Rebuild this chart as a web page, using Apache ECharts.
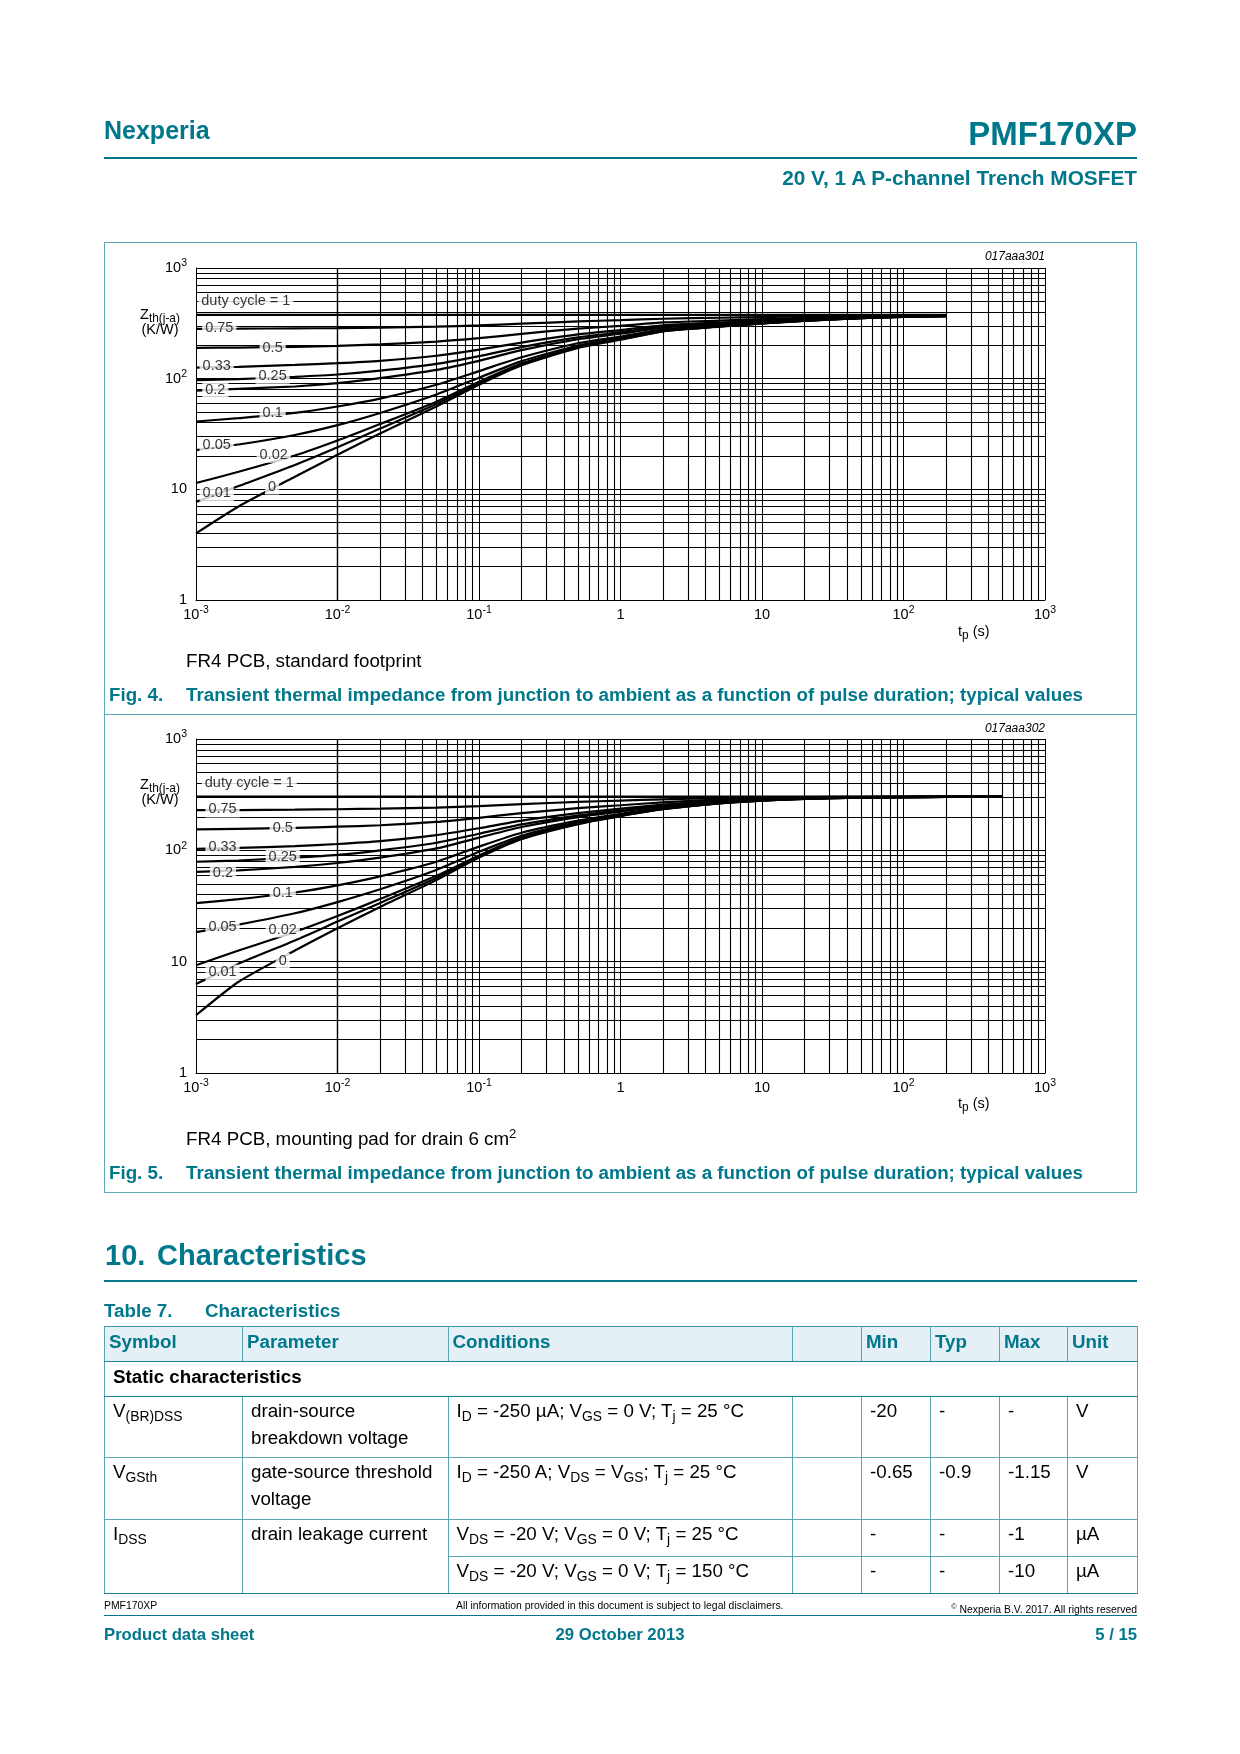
<!DOCTYPE html>
<html><head><meta charset="utf-8">
<script src="https://cdn.jsdelivr.net/npm/echarts@6/dist/echarts.min.js"></script>
<style>
html,body{margin:0;padding:0;background:#fff;}
#page{position:relative;width:1240px;height:1754px;overflow:hidden;font-family:"Liberation Sans",Arial,sans-serif;color:#000;background:#fff;}
.t{position:absolute;white-space:nowrap;line-height:1;}
.teal{color:#00778b;}
.b{font-weight:bold;}
.hl{position:absolute;background:#00778b;}
sub.s{font-size:0.82em;vertical-align:-0.25em;line-height:0;}
table.ch{position:absolute;left:104px;top:1326px;border-collapse:collapse;table-layout:fixed;width:1033px;font-size:18.75px;line-height:26.7px;}
table.ch td{border:1px solid #5aa5b5;vertical-align:top;padding:1px 6px 0 8px;overflow:hidden;white-space:nowrap;}
table.ch tr.hd td{background:#e4f0f5;color:#00778b;font-weight:bold;vertical-align:middle;padding:0 4px 4px 4px;border-bottom:1.5px solid #1f8497;border-top:1px solid #3d98a9;}
table.ch tr.st td{font-weight:bold;vertical-align:middle;padding:0 0 3px 8px;border-bottom:1.5px solid #1f8497;}
table.ch tr.last td{border-bottom:1.5px solid #1f8497;}
table.ch sub{font-size:0.74em;vertical-align:-0.3em;line-height:0;}
</style></head><body>
<div id="page">
<div id="chart" style="position:absolute;left:0;top:0;width:1240px;height:1754px;"></div>

<!-- header -->
<div class="t teal b" style="left:104px;top:118px;font-size:25px;">Nexperia</div>
<div class="t teal b" style="right:103px;top:117px;font-size:33px;">PMF170XP</div>
<div class="hl" style="left:104px;top:157px;width:1033px;height:1.5px;"></div>
<div class="t teal b" style="right:103px;top:168px;font-size:20.8px;">20 V, 1 A P-channel Trench MOSFET</div>

<!-- figure box -->
<div style="position:absolute;left:104px;top:242px;width:1033px;height:951px;border:1px solid #5da9b8;box-sizing:border-box;"></div>
<div style="position:absolute;left:104px;top:714px;width:1033px;height:1px;background:#5da9b8;"></div>

<!-- fig 4 texts -->
<div class="t" style="right:195px;top:250px;font-size:12px;font-style:italic;">017aaa301</div>
<div class="t" style="left:160px;top:307px;font-size:14.5px;transform:translateX(-50%);">Z<sub class="s">th(j-a)</sub></div>
<div class="t" style="left:160px;top:322px;font-size:14.5px;transform:translateX(-50%);">(K/W)</div>
<div class="t" style="left:958px;top:624px;font-size:14.5px;">t<sub class="s">p</sub> (s)</div>
<div class="t" style="left:186px;top:652px;font-size:18.75px;">FR4 PCB, standard footprint</div>
<div class="t teal b" style="left:109px;top:686px;font-size:18.75px;">Fig. 4.</div>
<div class="t teal b" style="left:186px;top:686px;font-size:18.75px;">Transient thermal impedance from junction to ambient as a function of pulse duration; typical values</div>

<!-- fig 5 texts -->
<div class="t" style="right:195px;top:722px;font-size:12px;font-style:italic;">017aaa302</div>
<div class="t" style="left:160px;top:777px;font-size:14.5px;transform:translateX(-50%);">Z<sub class="s">th(j-a)</sub></div>
<div class="t" style="left:160px;top:792px;font-size:14.5px;transform:translateX(-50%);">(K/W)</div>
<div class="t" style="left:958px;top:1096px;font-size:14.5px;">t<sub class="s">p</sub> (s)</div>
<div class="t" style="left:186px;top:1130px;font-size:18.75px;">FR4 PCB, mounting pad for drain 6 cm<sup style="font-size:0.7em;line-height:0;vertical-align:0.55em;">2</sup></div>
<div class="t teal b" style="left:109px;top:1164px;font-size:18.75px;">Fig. 5.</div>
<div class="t teal b" style="left:186px;top:1164px;font-size:18.75px;">Transient thermal impedance from junction to ambient as a function of pulse duration; typical values</div>

<!-- section -->
<div class="t teal b" style="left:105px;top:1241px;font-size:29px;">10.</div>
<div class="t teal b" style="left:157px;top:1241px;font-size:29px;">Characteristics</div>
<div class="hl" style="left:104px;top:1280px;width:1033px;height:1.5px;"></div>
<div class="t teal b" style="left:104px;top:1302px;font-size:18.75px;">Table 7.</div>
<div class="t teal b" style="left:205px;top:1302px;font-size:18.75px;">Characteristics</div>

<table class="ch">
<colgroup><col style="width:138px"><col style="width:205.5px"><col style="width:344.5px"><col style="width:69px"><col style="width:69px"><col style="width:69px"><col style="width:68px"><col style="width:70px"></colgroup>
<tr class="hd" style="height:35px"><td>Symbol</td><td>Parameter</td><td>Conditions</td><td></td><td>Min</td><td>Typ</td><td>Max</td><td>Unit</td></tr>
<tr class="st" style="height:35px"><td colspan="8">Static characteristics</td></tr>
<tr style="height:61px"><td>V<sub>(BR)DSS</sub></td><td>drain-source<br>breakdown voltage</td><td>I<sub>D</sub> = -250 µA; V<sub>GS</sub> = 0 V; T<sub>j</sub> = 25 °C</td><td></td><td>-20</td><td>-</td><td>-</td><td>V</td></tr>
<tr style="height:62px"><td>V<sub>GSth</sub></td><td>gate-source threshold<br>voltage</td><td>I<sub>D</sub> = -250 A; V<sub>DS</sub> = V<sub>GS</sub>; T<sub>j</sub> = 25 °C</td><td></td><td>-0.65</td><td>-0.9</td><td>-1.15</td><td>V</td></tr>
<tr style="height:37px"><td rowspan="2" style="border-bottom:1.5px solid #1f8497">I<sub>DSS</sub></td><td rowspan="2" style="border-bottom:1.5px solid #1f8497">drain leakage current</td><td>V<sub>DS</sub> = -20 V; V<sub>GS</sub> = 0 V; T<sub>j</sub> = 25 °C</td><td></td><td>-</td><td>-</td><td>-1</td><td>µA</td></tr>
<tr class="last" style="height:37px"><td>V<sub>DS</sub> = -20 V; V<sub>GS</sub> = 0 V; T<sub>j</sub> = 150 °C</td><td></td><td>-</td><td>-</td><td>-10</td><td>µA</td></tr>
</table>

<!-- footer -->
<div class="t" style="left:104px;top:1601px;font-size:10.4px;">PMF170XP</div>
<div class="t" style="left:456px;top:1601px;font-size:10.4px;">All information provided in this document is subject to legal disclaimers.</div>
<div class="t" style="right:103px;top:1605px;font-size:10.4px;"><sup style="font-size:0.7em;line-height:0;">©</sup> Nexperia B.V. 2017. All rights reserved</div>
<div class="hl" style="left:104px;top:1615px;width:1033px;height:1.2px;"></div>
<div class="t teal b" style="left:104px;top:1627px;font-size:16.7px;">Product data sheet</div>
<div class="t teal b" style="left:620px;top:1627px;font-size:16.7px;transform:translateX(-50%);">29 October 2013</div>
<div class="t teal b" style="right:103px;top:1627px;font-size:16.7px;">5 / 15</div>
</div>

<script>
// ---------- data ----------
const xTickValues = [0.001, 0.01, 0.1, 1, 10, 100, 1000];
const yTickValues = [1, 10, 100, 1000];

const tp4 = [0.001, 0.002, 0.005, 0.01, 0.02, 0.05, 0.1, 0.2, 0.5, 1, 2, 5, 10, 20, 50, 100, 200];
const fig4_dc1   = [377, 377, 377, 377, 377, 377, 377, 377, 377, 377, 377, 377, 377, 377, 377, 377, 377];
const fig4_dc075 = [282, 283, 285, 286, 289, 295, 303, 314, 329, 338, 348, 355, 360, 365, 369, 372, 373];
const fig4_dc05  = [190, 191, 194, 198, 204, 216, 232, 254, 283, 300, 322, 335, 345, 354, 364, 369, 372];
const fig4_dc033 = [126, 128, 133, 138, 145, 161, 183, 212, 251, 275, 303, 321, 335, 347, 360, 366, 370];
const fig4_dc025 = [97, 99, 104, 109, 118, 136, 160, 193, 236, 263, 295, 315, 330, 344, 358, 365, 370];
const fig4_dc02  = [78, 81, 85, 91, 101, 120, 145, 181, 227, 255, 289, 311, 327, 341, 357, 365, 369];
const fig4_dc01  = [41, 44, 49, 56, 66, 88, 117, 156, 209, 240, 279, 303, 321, 337, 354, 363, 369];
const fig4_dc005 = [22.6, 25.4, 31, 38, 49, 72, 102, 144, 199, 233, 273, 299, 318, 335, 353, 363, 368];
const fig4_dc002 = [11.4, 14.4, 20.2, 27.6, 38.9, 62, 94, 137, 194, 228, 270, 297, 316, 334, 352, 362, 368];
const fig4_dc001 = [7.7, 10.7, 16.6, 24, 35.4, 59, 91, 134, 192, 227, 269, 296, 316, 333, 352, 362, 368];
const fig4_dc0   = [4.0, 7.0, 13.0, 20.5, 32, 56, 88, 132, 190, 225, 268, 295, 315, 333, 352, 362, 368];

const tp5 = [0.001, 0.002, 0.005, 0.01, 0.02, 0.05, 0.1, 0.2, 0.5, 1, 2, 5, 10, 20, 50, 100, 200, 500];
const fig5_dc1   = [304, 304, 304, 304, 304, 304, 304, 304, 304, 304, 304, 304, 304, 304, 304, 304, 304, 304];
const fig5_dc075 = [230, 230, 232, 234, 237, 242, 250, 260, 272, 280, 287, 295, 299, 301, 303, 304, 304, 304];
const fig5_dc05  = [154, 156, 159, 163, 168, 180, 196, 216, 239, 254, 270, 285, 293, 298, 301, 303, 304, 304];
const fig5_dc033 = [103, 105, 109, 114, 121, 137, 158, 185, 216, 237, 257, 278, 288, 295, 300, 302, 303, 304];
const fig5_dc025 = [79, 81, 86, 91, 100, 117, 141, 171, 205, 229, 252, 274, 286, 294, 299, 301, 303, 303];
const fig5_dc02  = [64, 66, 71, 77, 86, 104, 130, 162, 199, 223, 248, 272, 285, 293, 299, 301, 303, 303];
const fig5_dc01  = [33.5, 36.4, 41.8, 48.5, 58.4, 79, 108, 144, 185, 213, 241, 268, 283, 292, 298, 301, 302, 303];
const fig5_dc005 = [18.4, 21.5, 27.2, 34.3, 44.7, 66.6, 97, 135, 179, 208, 238, 266, 281, 291, 297, 300, 302, 303];
const fig5_dc002 = [9.3, 12.6, 18.5, 25.7, 36.5, 59, 90, 130, 175, 205, 235, 265, 281, 290, 297, 300, 302, 303];
const fig5_dc001 = [6.3, 9.6, 15.5, 22.9, 33.7, 56.5, 88, 128, 173, 204, 235, 264, 280, 290, 297, 300, 302, 303];
const fig5_dc0   = [3.3, 6.6, 12.6, 20, 31, 54, 86, 126, 172, 203, 234, 264, 280, 290, 297, 300, 302, 303];

const curveLabels = ['duty cycle = 1', '0.75', '0.5', '0.33', '0.25', '0.2', '0.1', '0.05', '0.02', '0.01', '0'];
const fig4LabelT = [0.00225, 0.00146, 0.00348, 0.0014, 0.00348, 0.00137, 0.00348, 0.0014, 0.00354, 0.0014, 0.00345];
const fig4LabelZ = [500, 284, 191, 130, 106, 79, 49, 25, 20.5, 9.2, 10.6];
const fig5LabelT = [0.00238, 0.00154, 0.0041, 0.00154, 0.0041, 0.00155, 0.0041, 0.00154, 0.0041, 0.00154, 0.0041];
const fig5LabelZ = [400, 233, 159, 107, 87, 63, 41.3, 20.4, 19.4, 8.0, 10.2];

// ---------- build ----------
const FF = '"Liberation Sans", Arial, sans-serif';
const fig4Curves = [fig4_dc1, fig4_dc075, fig4_dc05, fig4_dc033, fig4_dc025, fig4_dc02, fig4_dc01, fig4_dc005, fig4_dc002, fig4_dc001, fig4_dc0];
const fig5Curves = [fig5_dc1, fig5_dc075, fig5_dc05, fig5_dc033, fig5_dc025, fig5_dc02, fig5_dc01, fig5_dc005, fig5_dc002, fig5_dc001, fig5_dc0];

function powLabel(v) {
  const e = Math.round(Math.log10(v));
  if (e === 0) return '{b|1}';
  if (e === 1) return '{b|10}';
  return '{b|10}{s|' + e + '}';
}
const rich = {
  b: {fontSize: 14.5, fontFamily: FF, color: '#000', lineHeight: 20},
  s: {fontSize: 10.5, fontFamily: FF, color: '#000', lineHeight: 11, verticalAlign: 'top'}
};

const minorX = [], minorY = [];
for (let i = 0; i < xTickValues.length - 1; i++) for (let k = 2; k <= 9; k++) minorX.push(+(k * xTickValues[i]).toPrecision(3));
for (let i = 0; i < yTickValues.length - 1; i++) for (let k = 2; k <= 9; k++) minorY.push(k * yTickValues[i]);

const grids = [{left: 196, top: 268, width: 849, height: 332}, {left: 196, top: 739, width: 849, height: 334}];
const xAxes = [], yAxes = [], series = [];
[0, 1].forEach(g => {
  xAxes.push({type: 'log', logBase: 10, gridIndex: g, min: 0.001, max: 1000, splitNumber: 6,
    axisLine: {show: true, lineStyle: {color: '#000', width: 1}}, axisTick: {show: false},
    splitLine: {show: true, lineStyle: {color: '#000', width: 1}},
    axisLabel: {show: true, margin: 5, formatter: powLabel, rich: rich, showMinLabel: true, showMaxLabel: true}});
  yAxes.push({type: 'log', logBase: 10, gridIndex: g, min: 1, max: 1000, splitNumber: 3,
    axisLine: {show: true, lineStyle: {color: '#000', width: 1}}, axisTick: {show: false},
    splitLine: {show: true, lineStyle: {color: '#000', width: 1}},
    axisLabel: {show: true, margin: 9, formatter: powLabel, rich: rich, showMinLabel: true, showMaxLabel: true}});
  series.push({type: 'line', xAxisIndex: g, yAxisIndex: g, data: [[0.001, 1]], symbol: 'none', lineStyle: {width: 0}, silent: true, z: 1,
    markLine: {silent: true, symbol: ['none', 'none'], label: {show: false}, z: 1, animation: false,
      lineStyle: {color: '#000', width: 1.1, type: 'solid'}, emphasis: {disabled: true},
      data: minorX.map(v => ({xAxis: v})).concat(minorY.map(v => ({yAxis: v})))}});
  const tp = g === 0 ? tp4 : tp5;
  const curves = g === 0 ? fig4Curves : fig5Curves;
  curves.forEach((arr, ci) => {
    series.push({type: 'line', name: 'f' + g + '_' + curveLabels[ci], xAxisIndex: g, yAxisIndex: g,
      data: tp.map((t, j) => [t, arr[j]]), symbol: 'none', showSymbol: false, smooth: 0.2,
      lineStyle: {color: '#000', width: 2.2}, silent: true, z: 3});
  });
  const LT = g === 0 ? fig4LabelT : fig5LabelT;
  const LZ = g === 0 ? fig4LabelZ : fig5LabelZ;
  series.push({type: 'scatter', xAxisIndex: g, yAxisIndex: g, symbolSize: 1, itemStyle: {color: 'rgba(0,0,0,0)'}, silent: true, z: 10,
    data: curveLabels.map((s, j) => ({name: s, value: [LT[j], LZ[j]]})),
    label: {show: true, position: 'inside', formatter: '{b}', fontSize: 14.5, fontFamily: FF, color: '#000',
      backgroundColor: '#fff', padding: [1, 3, 0, 3]}});
});

const chart = echarts.init(document.getElementById('chart'), null, {renderer: 'canvas', width: 1240, height: 1754});
chart.setOption({animation: false, backgroundColor: 'transparent', grid: grids, xAxis: xAxes, yAxis: yAxes, series: series});
</script>
</body></html>
